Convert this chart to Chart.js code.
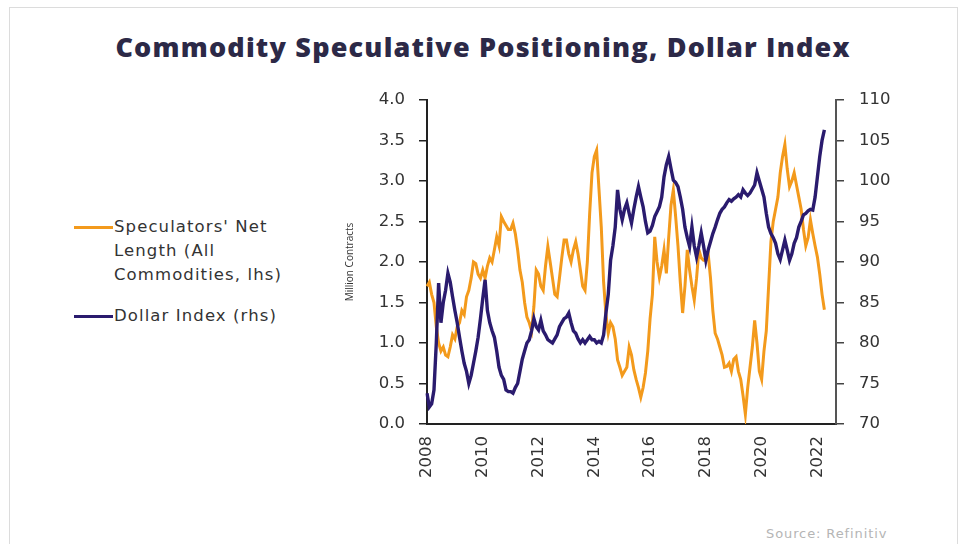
<!DOCTYPE html>
<html>
<head>
<meta charset="utf-8">
<script src="https://cdn.jsdelivr.net/npm/chart.js@4/dist/chart.umd.min.js"></script>
<style>
  html, body { margin: 0; padding: 0; background: #fff; }
  body { width: 966px; height: 544px; position: relative; overflow: hidden; font-family: "DejaVu Sans", sans-serif; }
  .frame { position: absolute; left: 9px; top: 7px; width: 947px; height: 560px; border: 1px solid #dcdcdc; }
  .title { position: absolute; left: 0; top: 28px; width: 966px; text-align: center; font-family: "Open Sans", sans-serif; font-size: 27px; font-weight: 800; color: #2c2947; letter-spacing: 1.2px; }
  .legend { position: absolute; left: 74px; top: 215px; font-size: 16.5px; color: #333; line-height: 24px; letter-spacing: 1.1px; }
  .legend .item { position: relative; padding-left: 40px; }
  .legend .sw { position: absolute; left: 0; top: 11px; width: 39px; height: 3px; }
  .source { position: absolute; left: 766px; top: 526px; font-size: 13px; color: #b5b5b5; letter-spacing: 0.9px; }
  #wrap { position: absolute; left: 340px; top: 75px; width: 560px; height: 430px; }
</style>
</head>
<body>
<div class="frame"></div>
<div class="title">Commodity Speculative Positioning, Dollar Index</div>
<div class="legend">
  <div class="item"><span class="sw" style="background:#f39a1c"></span>Speculators' Net<br>Length (All<br>Commodities, lhs)</div>
  <div class="item" style="margin-top:17px"><span class="sw" style="background:#2a1b6e"></span>Dollar Index (rhs)</div>
</div>
<div class="source">Source: Refinitiv</div>
<div id="wrap"><canvas id="chart" width="560" height="430"></canvas></div>
<script>
// monthly, Jan 2008 .. Apr 2022 (axis runs on to Sep 2022)
var years = [2008, 2009, 2010, 2011, 2012, 2013, 2014, 2015, 2016, 2017, 2018, 2019, 2020, 2021, 2022];
var months = ['01', '02', '03', '04', '05', '06', '07', '08', '09', '10', '11', '12'];

// speculators' net length, million contracts (lhs)
var netLength = [
  1.70, 1.75, 1.60, 1.50, 1.20, 1.00, 0.90, 0.95, 0.85, 0.83, 0.95, 1.10,
  1.05, 1.20, 1.25, 1.40, 1.35, 1.57, 1.65, 1.80, 2.00, 1.98, 1.85, 1.80,
  1.90, 1.80, 1.95, 2.05, 2.00, 2.15, 2.31, 2.20, 2.56, 2.50, 2.45, 2.40,
  2.40, 2.48, 2.35, 2.15, 1.90, 1.75, 1.50, 1.32, 1.25, 1.15, 1.45, 1.90,
  1.85, 1.70, 1.65, 1.95, 2.19, 2.00, 1.80, 1.60, 1.57, 1.80, 2.05, 2.27,
  2.27, 2.10, 2.00, 2.15, 2.25, 2.10, 1.90, 1.70, 1.65, 2.00, 2.60, 3.10,
  3.30, 3.38, 2.90, 2.43, 1.75, 1.35, 1.12, 1.25, 1.20, 1.05, 0.79, 0.70,
  0.60, 0.65, 0.70, 0.95, 0.85, 0.67, 0.55, 0.45, 0.33, 0.45, 0.63, 0.90,
  1.30, 1.60, 2.31, 2.00, 1.81, 1.95, 2.15, 1.86, 2.30, 2.70, 2.89, 2.56,
  2.20, 1.75, 1.37, 1.70, 2.15, 1.90, 1.70, 1.53, 1.80, 2.15, 2.05, 2.02,
  2.02, 2.10, 1.80, 1.40, 1.12, 1.05, 0.95, 0.85, 0.70, 0.71, 0.75, 0.65,
  0.80, 0.83, 0.65, 0.55, 0.35, 0.12, 0.45, 0.70, 0.95, 1.28, 1.00, 0.65,
  0.55, 0.90, 1.15, 1.70, 2.25, 2.50, 2.65, 2.80, 3.10, 3.30, 3.45, 3.15,
  2.93, 3.00, 3.10, 2.95, 2.80, 2.65, 2.40, 2.20, 2.30, 2.52, 2.35, 2.20,
  2.06, 1.85, 1.60, 1.41
];

// dollar index (rhs)
var dollarIndex = [
  73.8, 72.1, 72.5, 74.2, 80.0, 87.4, 82.5, 85.0, 86.5, 88.6, 87.5, 85.7,
  84.0, 82.5, 80.7, 79.0, 77.5, 76.5, 75.0, 76.0, 77.5, 79.0, 80.7, 83.0,
  85.5, 87.8, 84.0, 82.5, 81.5, 80.7, 79.0, 77.0, 76.0, 75.5, 74.2, 74.0,
  74.0, 73.8, 74.5, 75.0, 76.5, 78.0, 79.0, 80.0, 80.4, 81.5, 83.0, 82.0,
  81.6, 82.8, 81.5, 81.0, 80.4, 80.2, 80.0, 80.5, 81.0, 82.0, 82.5, 83.0,
  83.2, 83.7, 82.5, 81.5, 81.2, 80.5, 80.0, 80.4, 80.0, 80.4, 80.8, 80.4,
  80.4, 80.0, 80.2, 80.0, 81.0, 83.7, 86.0, 90.2, 92.0, 94.3, 98.9, 96.5,
  95.2, 96.5, 97.3, 96.0, 94.8, 96.5, 98.0, 99.3, 98.0, 96.8, 95.0, 93.6,
  93.8, 94.5, 95.6, 96.2, 96.8, 98.0, 100.5, 102.0, 103.0, 101.5, 100.1, 99.8,
  99.3, 98.0, 96.5, 94.3, 93.0, 91.9, 94.3, 92.0, 90.6, 92.0, 93.6, 92.0,
  90.2, 91.5, 92.5, 93.5, 94.3, 95.2, 96.0, 96.5, 96.8, 97.3, 97.7, 97.5,
  97.8, 98.0, 98.3, 98.0, 98.9, 98.5, 98.2, 98.5, 99.0, 99.5, 101.0, 100.0,
  99.0, 98.0, 96.0, 94.3, 93.5, 93.0, 92.3, 91.0, 90.3, 91.5, 92.7, 91.5,
  90.2, 91.0, 92.3, 93.0, 94.3, 95.0, 95.8, 96.0, 96.3, 96.5, 96.4, 98.0,
  100.5, 103.0, 105.0, 106.3
];

var labels = [];
years.forEach(function (y) {
  months.forEach(function (m) {
    if (y < 2022 || m <= '09') labels.push(y + '-' + m);
  });
});

var tickFont = { family: 'DejaVu Sans', size: 16.5 };
var ink = '#333';

new Chart('chart', {
  type: 'line',
  data: {
    labels: labels,
    datasets: [{
      label: "Speculators' Net Length (All Commodities, lhs)",
      data: netLength,
      yAxisID: 'y',
      borderColor: '#f39a1c',
      borderWidth: 3,
      pointRadius: 0,
      tension: 0,
      order: 2
    }, {
      label: 'Dollar Index (rhs)',
      data: dollarIndex,
      yAxisID: 'y1',
      borderColor: '#2a1b6e',
      borderWidth: 3.4,
      pointRadius: 0,
      tension: 0,
      order: 1
    }]
  },
  options: {
    responsive: false,
    animation: false,
    layout: { padding: { top: 15, left: 0, right: 0, bottom: 0 } },
    plugins: { legend: { display: false }, tooltip: { enabled: false } },
    scales: {
      x: {
        offset: false,
        grid: { display: false },
        border: { display: true, color: '#222', width: 2 },
        afterBuildTicks: function (s) {
          s.ticks = s.ticks.filter(function (t) { return t.value % 24 === 0; });
        },
        afterFit: function (s) { s.height = 81; },
        ticks: {
          autoSkip: false,
          minRotation: 90,
          maxRotation: 90,
          padding: 4,
          color: ink,
          font: tickFont,
          callback: function (v) { return labels[v].slice(0, 4); }
        }
      },
      y: {
        position: 'left',
        min: 0,
        max: 4,
        afterFit: function (s) { s.width = 87; },
        grid: { drawOnChartArea: false, drawTicks: true, tickLength: 8, color: '#222', lineWidth: 1.5 },
        border: { display: true, color: '#222', width: 2 },
        title: { display: true, text: 'Million Contracts', color: ink, font: { family: 'Open Sans', size: 10 }, padding: { top: 4, bottom: 2 } },
        ticks: {
          stepSize: 0.5,
          padding: 14,
          color: ink,
          font: tickFont,
          callback: function (v) { return v.toFixed(1); }
        }
      },
      y1: {
        position: 'right',
        min: 70,
        max: 110,
        afterFit: function (s) { s.width = 64; },
        grid: { drawOnChartArea: false, drawTicks: true, tickLength: 8, color: '#444', lineWidth: 1.5 },
        border: { display: true, color: '#555', width: 2 },
        ticks: { stepSize: 5, padding: 15, color: ink, font: tickFont }
      }
    }
  }
});
</script>
</body>
</html>
